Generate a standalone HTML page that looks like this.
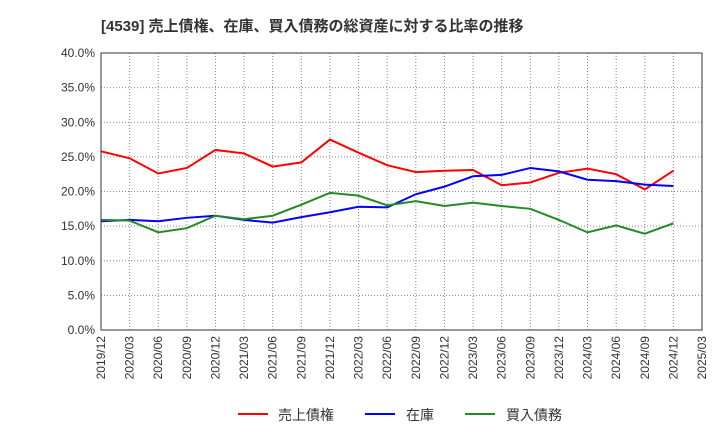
<!DOCTYPE html>
<html><head><meta charset="utf-8"><style>
body{margin:0;background:#fff;font-family:"Liberation Sans","Noto Sans CJK JP",sans-serif}
</style></head><body>
<svg width="720" height="440" xmlns="http://www.w3.org/2000/svg" id="chart">
<text x="101" y="31" font-size="15" font-weight="bold" fill="#333" font-family="Liberation Sans, Noto Sans CJK JP, sans-serif">[4539]  売上債権、在庫、買入債務の総資産に対する比率の推移</text>
<g id="grid"></g><g id="axes"></g><g id="series"></g>
<rect x="101" y="53" width="601" height="277" fill="none" stroke="#333"/>
<g font-size="14" font-family="Liberation Sans, Noto Sans CJK JP, sans-serif" fill="#333">
<line x1="238" y1="414" x2="268" y2="414" stroke="#f00" stroke-width="2"/>
<text x="278" y="420">売上債権</text>
<line x1="365" y1="414" x2="395" y2="414" stroke="#00f" stroke-width="2"/>
<text x="406" y="420">在庫</text>
<line x1="465" y1="414" x2="495" y2="414" stroke="#228b22" stroke-width="2"/>
<text x="506" y="420">買入債務</text>
</g>
</svg>
<script>
const categories=["2019/12","2020/03","2020/06","2020/09","2020/12","2021/03","2021/06","2021/09","2021/12","2022/03","2022/06","2022/09","2022/12","2023/03","2023/06","2023/09","2023/12","2024/03","2024/06","2024/09","2024/12","2025/03"];
const receivables=[25.8,24.8,22.6,23.4,26.0,25.5,23.6,24.2,27.5,25.6,23.8,22.8,23.0,23.1,20.9,21.3,22.7,23.3,22.5,20.3,23.0];
const inventory=[15.7,15.9,15.7,16.2,16.5,15.9,15.5,16.3,17.0,17.8,17.7,19.6,20.7,22.2,22.4,23.4,22.9,21.7,21.5,21.0,20.8];
const payables=[15.9,15.8,14.1,14.7,16.5,16.0,16.5,18.1,19.8,19.4,18.0,18.6,17.9,18.4,17.9,17.5,15.9,14.1,15.1,13.9,15.4];
const yTicks=[0,5,10,15,20,25,30,35,40];
const NS="http://www.w3.org/2000/svg";
const X0=101,X1=702,Y0=330,Y1=53;
const xs=i=>X0+(X1-X0)*i/(categories.length-1);
const ys=v=>Y0-(Y0-Y1)*v/40;
function mk(t,a){const e=document.createElementNS(NS,t);for(const k in a)e.setAttribute(k,a[k]);return e;}
const grid=document.getElementById('grid'),axes=document.getElementById('axes'),ser=document.getElementById('series');
categories.forEach((c,i)=>{
 const l=mk('line',{x1:xs(i),x2:xs(i),y1:Y1,y2:Y0,stroke:'#888','stroke-dasharray':'1,2'});
 
 
 grid.appendChild(l);
 const t=mk('text',{x:0,y:0,'font-size':12,fill:'#333','text-anchor':'end',transform:`translate(${xs(i)+4},${Y0+6}) rotate(-90)`,'font-family':'Liberation Sans, sans-serif'});
 t.textContent=c;
 
 
 axes.appendChild(t);
});
yTicks.forEach(v=>{
 const l=mk('line',{x1:X0,x2:X1,y1:ys(v),y2:ys(v),stroke:'#888','stroke-dasharray':'1,2'});
 
 
 grid.appendChild(l);
 const t=mk('text',{x:X0-6,y:ys(v)+4,'font-size':12,fill:'#333','text-anchor':'end','font-family':'Liberation Sans, sans-serif'});
 t.textContent=v.toFixed(1)+'%';
 
 
 axes.appendChild(t);
});
[[receivables,'#f00','receivables-line'],[inventory,'#00f','inventory-line'],[payables,'#228b22','payables-line']].forEach(([d,c,n])=>{
 const p=mk('polyline',{points:d.map((v,i)=>xs(i)+','+ys(v)).join(' '),fill:'none',stroke:c,'stroke-width':2});
 
 
 ser.appendChild(p);
});
</script>
</body></html>
